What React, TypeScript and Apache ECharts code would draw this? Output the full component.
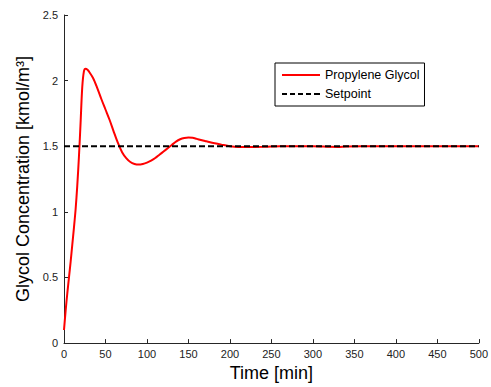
import React, { useEffect, useRef } from "react";
import * as echarts from "echarts";

const timeMin = [0, 2, 4, 6, 8, 10, 12, 14, 16, 18, 20, 22, 24, 26, 28, 30, 35, 40, 45, 50, 55, 60, 65, 70, 75, 80, 85, 90, 95, 100, 105, 110, 115, 120, 125, 130, 135, 140, 145, 150, 155, 160, 165, 170, 175, 180, 190, 200, 210, 220, 230, 240, 250, 260, 280, 300, 320, 330, 340, 360, 400, 450, 500];
const glycol = [0.1, 0.25, 0.38, 0.5, 0.62, 0.75, 0.88, 1.02, 1.2, 1.42, 1.68, 1.95, 2.07, 2.09, 2.085, 2.07, 2.02, 1.945, 1.86, 1.78, 1.7, 1.61, 1.525, 1.455, 1.41, 1.38, 1.365, 1.36, 1.365, 1.375, 1.39, 1.41, 1.435, 1.46, 1.485, 1.51, 1.535, 1.553, 1.563, 1.567, 1.564, 1.556, 1.548, 1.54, 1.532, 1.525, 1.512, 1.5, 1.495, 1.495, 1.495, 1.496, 1.498, 1.5, 1.5, 1.5, 1.496, 1.495, 1.498, 1.5, 1.5, 1.5, 1.5];
const setpointTime = [0, 500];
const setpointValue = [1.5, 1.5];
const seriesNames = ["Propylene Glycol", "Setpoint"];

const solidIcon = "path://M0,0H38V2H0Z";
const dashedIcon = "path://M0,0H5V2H0Z M8,0H13V2H8Z M16,0H21V2H16Z M24,0H29V2H24Z M32,0H38V2H32Z";

export default function App() {
  const ref = useRef<HTMLDivElement>(null);
  useEffect(() => {
    if (!ref.current) return;
    const chart = echarts.init(ref.current, null, { renderer: "svg" });
    const font = "'Liberation Sans', Arial, sans-serif";
    const axisColor = "#262626";
    chart.setOption({
      animation: false,
      backgroundColor: "#ffffff",
      textStyle: { fontFamily: font },
      grid: { left: 64, right: 10, top: 15, bottom: 43, containLabel: false },
      legend: {
        orient: "vertical",
        left: 275,
        top: 63,
        itemWidth: 38,
        itemHeight: 2,
        itemGap: 5,
        padding: [5, 5, 5, 7],
        borderColor: "#000",
        borderWidth: 1,
        backgroundColor: "#fff",
        textStyle: { fontFamily: font, fontSize: 12.5, color: "#000", lineHeight: 14 },
        data: [
          { name: seriesNames[0], icon: solidIcon },
          { name: seriesNames[1], icon: dashedIcon },
        ],
      },
      xAxis: {
        type: "value",
        min: 0,
        max: 500,
        interval: 50,
        name: "Time [min]",
        nameLocation: "middle",
        nameGap: 20,
        nameTextStyle: { fontFamily: font, fontSize: 18, color: "#000" },
        axisLine: { show: true, lineStyle: { color: axisColor, width: 1 } },
        axisTick: { show: true, inside: true, length: 4, lineStyle: { color: axisColor } },
        axisLabel: { fontFamily: font, fontSize: 11, color: "#222", margin: 5 },
        splitLine: { show: false },
      },
      yAxis: {
        type: "value",
        min: 0,
        max: 2.5,
        interval: 0.5,
        name: "Glycol Concentration [kmol/m³]",
        nameLocation: "middle",
        nameGap: 32,
        nameTextStyle: { fontFamily: font, fontSize: 18, color: "#000" },
        axisLine: { show: true, lineStyle: { color: axisColor, width: 1 } },
        axisTick: { show: true, inside: true, length: 4, lineStyle: { color: axisColor } },
        axisLabel: { fontFamily: font, fontSize: 11, color: "#222", margin: 6 },
        splitLine: { show: false },
      },
      series: [
        {
          name: seriesNames[0],
          type: "line",
          symbol: "none",
          showSymbol: false,
          smooth: 0.3,
          data: timeMin.map((t, i) => [t, glycol[i]]),
          lineStyle: { color: "#ff0000", width: 2 },
          itemStyle: { color: "#ff0000" },
        },
        {
          name: seriesNames[1],
          type: "line",
          symbol: "none",
          showSymbol: false,
          data: setpointTime.map((t, i) => [t, setpointValue[i]]),
          lineStyle: { color: "#000000", width: 2, type: [6, 3] },
          itemStyle: { color: "#000000" },
        },
      ],
    });
    return () => chart.dispose();
  }, []);
  return (
    <div
      ref={ref}
      style={{ position: "fixed", left: 0, top: 0, width: 491, height: 387, background: "#fff" }}
    />
  );
}
